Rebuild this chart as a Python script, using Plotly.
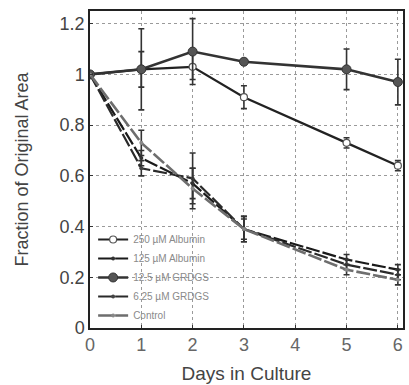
import plotly.graph_objects as go

days = [0, 1, 2, 3, 5, 6]

series_names = ["250 \u00b5M Albumin", "125 \u00b5M Albumin", "12.5 \u00b5M GRDGS", "6.25 \u00b5M GRDGS", "Control"]

alb250 = [1.0, 1.02, 1.03, 0.91, 0.73, 0.64]
alb250_err = [0, 0.07, 0.05, 0.045, 0.02, 0.02]

alb125 = [1.0, 0.67, 0.57, 0.39, 0.27, 0.23]
alb125_err = [0, 0.03, 0.06, 0.04, 0.02, 0.02]

grdgs125 = [1.0, 1.02, 1.09, 1.05, 1.02, 0.97]
grdgs125_err = [0, 0.16, 0.13, 0.01, 0.08, 0.09]

grdgs625 = [1.0, 0.63, 0.59, 0.39, 0.25, 0.21]
grdgs625_err = [0, 0.03, 0.1, 0.05, 0.02, 0.02]

control = [1.0, 0.73, 0.55, 0.39, 0.23, 0.19]
control_err = [0, 0.05, 0.08, 0.05, 0.02, 0.02]

x_ticks = [0, 1, 2, 3, 4, 5, 6]
y_ticks = [0, 0.2, 0.4, 0.6, 0.8, 1.0, 1.2]
y_tick_labels = ["0", "0.2", "0.4", "0.6", "0.8", "1", "1.2"]

fig = go.Figure()

styles = [
    (alb250, alb250_err, dict(color="#222222", width=2.2, dash="solid"),
     dict(symbol="circle", size=7, color="white", line=dict(color="#555555", width=1.2))),
    (alb125, alb125_err, dict(color="#1a1a1a", width=2.2, dash="14px,3px"),
     dict(symbol="circle", size=4, color="#333333")),
    (grdgs125, grdgs125_err, dict(color="#333333", width=2.6, dash="solid"),
     dict(symbol="circle", size=9, color="#555555", line=dict(color="#333333", width=1))),
    (grdgs625, grdgs625_err, dict(color="#2a2a2a", width=2.2, dash="14px,3px"),
     dict(symbol="circle", size=4, color="#444444")),
    (control, control_err, dict(color="#6e6e6e", width=2.6, dash="14px,3px"),
     dict(symbol="circle", size=4, color="#888888")),
]

for name, (vals, errs, line, marker) in zip(series_names, styles):
    fig.add_trace(go.Scatter(
        x=days, y=vals, name=name, mode="lines+markers",
        line=line, marker=marker,
        error_y=dict(type="data", array=errs, visible=True, color="#333333",
                     thickness=1.6, width=3),
    ))

fig.update_layout(
    width=409, height=385,
    margin=dict(l=90, r=4, t=11, b=55),
    paper_bgcolor="white", plot_bgcolor="white",
    font=dict(family="Liberation Sans, Arial, sans-serif", color="#444444", size=18),
    showlegend=True,
    legend=dict(
        x=0.01, y=0.325, xanchor="left", yanchor="top",
        bgcolor="rgba(255,255,255,0)",
        font=dict(size=10, color="#8a8a8a"),
        itemwidth=30, tracegroupgap=0,
    ),
)

fig.update_xaxes(
    range=[0, 6.1], tickvals=x_ticks, ticks="inside", ticklen=3, tickcolor="#333",
    showgrid=True, gridcolor="#9a9a9a", griddash="dot", gridwidth=1,
    showline=True, linecolor="#222222", linewidth=1.5, mirror=True, zeroline=False,
    tickfont=dict(size=18, color="#666666"),
    title=dict(text="Days in Culture", font=dict(size=19, color="#444444"), standoff=12),
)
fig.update_yaxes(
    range=[0, 1.25], tickvals=y_ticks, ticktext=y_tick_labels, ticks="inside", ticklen=3,
    tickcolor="#333",
    showgrid=True, gridcolor="#9a9a9a", griddash="dot", gridwidth=1,
    showline=True, linecolor="#222222", linewidth=1.5, mirror=True, zeroline=False,
    tickfont=dict(size=18, color="#444444"),
    title=dict(text="Fraction of Original Area", font=dict(size=18, color="#444444"), standoff=26),
)

fig.write_html("out.html", config={"displayModeBar": False},
               post_script="document.body.style.margin='0';document.body.style.overflow='hidden';")
